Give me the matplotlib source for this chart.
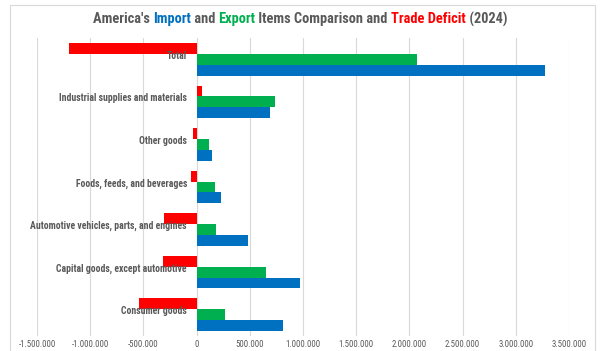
#!/usr/bin/env python3

import matplotlib
matplotlib.use("Agg")
import matplotlib.pyplot as plt
import numpy as np
from matplotlib.offsetbox import TextArea, HPacker, AnchoredOffsetbox
from matplotlib.patches import Rectangle
from matplotlib.ticker import FuncFormatter
import matplotlib.transforms as mtransforms

# US goods trade 2024, millions of dollars (bottom to top as drawn)
categories = [
    "Consumer goods",
    "Capital goods, except automotive",
    "Automotive vehicles, parts, and engines",
    "Foods, feeds, and beverages",
    "Other goods",
    "Industrial supplies and materials",
    "Total",
]
imports = [815000, 971000, 486000, 226000, 144000, 686000, 3277000]
exports = [270000, 655000, 179000, 172000, 113000, 736000, 2074000]
deficit = [-545000, -316000, -307000, -54000, -31000, 50000, -1203000]

xticks = list(range(-1500000, 3500001, 500000))

BLUE = "#0070C0"
GREEN = "#00B050"
RED = "#FF0000"
GREY = "#595959"
GRID = "#D9D9D9"

FONT = ["Roboto Condensed", "DejaVu Sans"]

fig = plt.figure(figsize=(6.0, 3.51), dpi=100)
ax = fig.add_axes([37 / 600, 1 - 336 / 351, 532 / 600, (336 - 38) / 351])

y = np.arange(len(categories))
h = 0.256
ax.barh(y - h, imports, height=h, color=BLUE, zorder=2)
ax.barh(y, exports, height=h, color=GREEN, zorder=2)
ax.barh(y + h, deficit, height=h, color=RED, zorder=2)

ax.set_xlim(-1500000, 3500000)
ax.set_ylim(-0.5, len(categories) - 0.5)
ax.set_xticks(xticks)
ax.xaxis.set_major_formatter(
    FuncFormatter(lambda v, p: f"{int(v):,}".replace(",", "."))
)
ax.set_yticks([])
ax.tick_params(axis="x", length=0, pad=3, labelsize=6.3, labelcolor=GREY)
for lbl in ax.get_xticklabels():
    lbl.set_family(FONT)
ax.grid(axis="x", color=GRID, linewidth=0.8, zorder=0)
for sp in ax.spines.values():
    sp.set_visible(False)
ax.axvline(0, color=GRID, linewidth=0.8, zorder=1)

# category names sit just left of the zero line, over the bars
lab_tr = ax.transData + mtransforms.ScaledTranslation(-7 / 72, 2.5 / 72, fig.dpi_scale_trans)
for yi, name in zip(y, categories):
    ax.text(0, yi, name, transform=lab_tr, ha="right", va="center",
            fontsize=7.0, color=GREY, fontweight="bold", family=FONT, zorder=4)

# title with coloured keywords
parts = [
    ("America's ", GREY), ("Import", BLUE), (" and ", GREY), ("Export", GREEN),
    (" Items Comparison and ", GREY), ("Trade Deficit", RED), (" (2024)", GREY),
]
boxes = [TextArea(t, textprops=dict(color=c, fontsize=10.4, fontweight="bold",
                                    family=FONT)) for t, c in parts]
title = HPacker(children=boxes, align="baseline", pad=0, sep=0)
anchored = AnchoredOffsetbox(loc="center", child=title, frameon=False,
                             bbox_to_anchor=(0.5, 1 - 19 / 351),
                             bbox_transform=fig.transFigure, pad=0, borderpad=0)
fig.add_artist(anchored)

# chart area border
fig.add_artist(Rectangle((10 / 600, -0.05), 585 / 600, 1.05 - 5 / 351,
                         transform=fig.transFigure, fill=False,
                         edgecolor=GRID, linewidth=0.8))

fig.savefig("out.png", dpi=100)
